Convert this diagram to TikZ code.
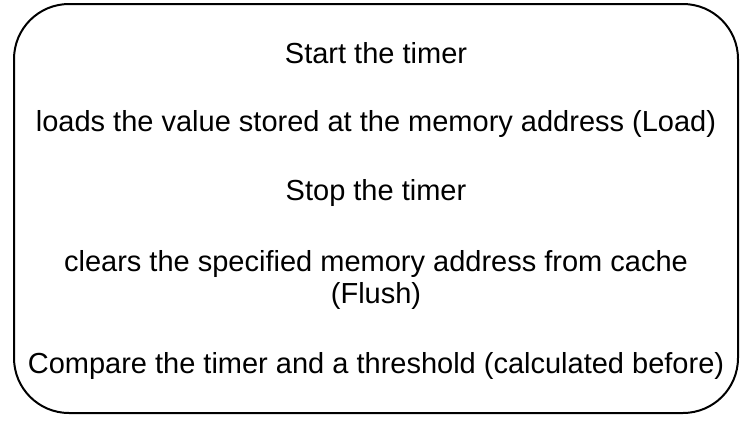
\documentclass[tikz,border=0pt]{standalone}
\usepackage{fontspec}
\setmainfont{Liberation Sans}
\begin{document}
\begin{tikzpicture}[x=1pt,y=-1pt,
  frame/.style={draw=black,line width=2pt,rounded corners=55pt},
  steptext/.style={anchor=base,inner sep=0pt,align=center,
    font=\fontsize{29}{31.5}\selectfont}]
\useasboundingbox (0,0) rectangle (747,424);
\draw[frame] (14,4) rectangle (738,413);
\node[steptext] (start) at (376,63) {Start the timer};
\node[steptext] (load) at (376,131.5) {loads the value stored at the memory address (Load)};
\node[steptext] (stop) at (376,200) {Stop the timer};
% base anchor of a two-line node sits on its last line
\node[steptext] (flush) at (376,303) {clears the specified memory address from cache\\(Flush)};
\node[steptext] (cmp) at (376,373) {Compare the timer and a threshold (calculated before)};
\end{tikzpicture}
\end{document}
